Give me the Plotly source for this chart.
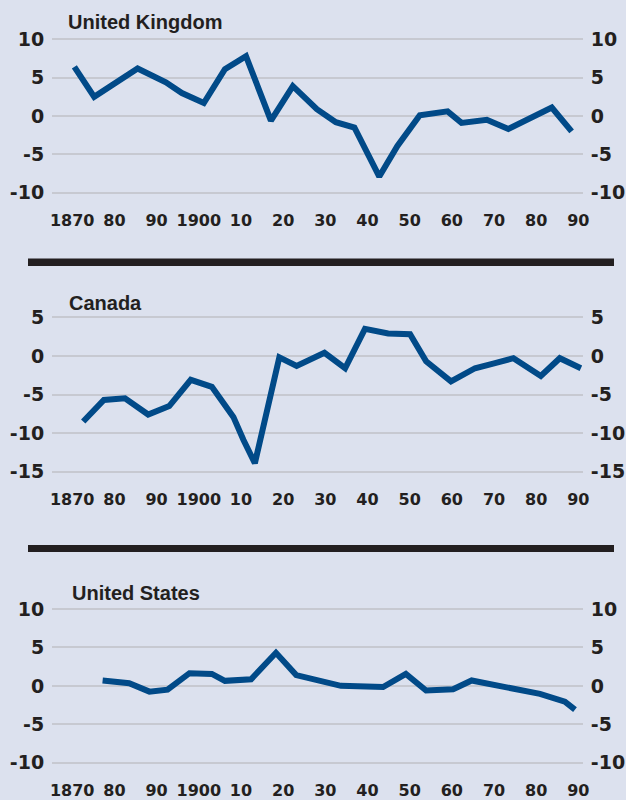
import plotly.graph_objects as go

# ---- data (current-account style balances, % ) ----
uk_years = [1870.5, 1875.2, 1885.5, 1892.2, 1896.0, 1901.2, 1906.2, 1911.2, 1917.1, 1922.3, 1928.0,
            1932.5, 1936.9, 1942.8, 1947.1, 1952.4, 1959.0, 1962.3, 1968.3, 1973.4, 1983.7, 1988.4]
uk_vals = [6.4, 2.5, 6.2, 4.4, 3.0, 1.7, 6.1, 7.8, -0.6, 3.9, 0.9,
           -0.8, -1.5, -7.9, -3.9, 0.1, 0.6, -0.9, -0.5, -1.7, 1.1, -2.0]

ca_years = [1872.6, 1877.5, 1882.5, 1888.0, 1893.0, 1898.1, 1903.1, 1908.2, 1910.6, 1913.3, 1919.1,
            1923.2, 1929.8, 1934.7, 1939.4, 1944.9, 1950.1, 1953.9, 1959.8, 1965.5, 1969.8, 1974.6,
            1981.1, 1985.6, 1990.6]
ca_vals = [-8.5, -5.7, -5.5, -7.6, -6.5, -3.1, -4.0, -7.9, -10.9, -13.9, -0.2,
           -1.3, 0.4, -1.6, 3.5, 2.9, 2.8, -0.7, -3.3, -1.6, -1.0, -0.3,
           -2.6, -0.3, -1.6]

us_years = [1877.2, 1883.5, 1888.3, 1892.6, 1897.8, 1903.1, 1906.2, 1912.4, 1918.3, 1923.1,
            1933.7, 1943.7, 1949.1, 1953.9, 1960.3, 1964.7, 1973.0, 1980.9, 1986.8, 1989.2]
us_vals = [0.7, 0.35, -0.75, -0.5, 1.65, 1.55, 0.65, 0.85, 4.3, 1.4,
           0.0, -0.15, 1.55, -0.6, -0.45, 0.7, -0.2, -1.05, -2.05, -3.1]

titles = ["United Kingdom", "Canada", "United States"]

x_tickvals = [1870, 1880, 1890, 1900, 1910, 1920, 1930, 1940, 1950, 1960, 1970, 1980, 1990]
x_ticktext = ["1870", "80", "90", "1900", "10", "20", "30", "40", "50", "60", "70", "80", "90"]

uk_yticks = [-10, -5, 0, 5, 10]
ca_yticks = [-15, -10, -5, 0, 5]
us_yticks = [-10, -5, 0, 5, 10]

# ---- styling ----
W, H = 626, 800
BG = "#dce1ee"
LINE = "#014a88"
GRID = "#c7c9d1"
TXT = "#231f20"
TICKFONT = "DejaVu Sans"
TITLEFONT = "Liberation Sans"

panels = [
    dict(years=uk_years, vals=uk_vals, yticks=uk_yticks, yr=[-10.5, 10.5], top=35.5, bot=196.5,
         title_y=22.5, title_x=66),
    dict(years=ca_years, vals=ca_vals, yticks=ca_yticks, yr=[-15.5, 5.5], top=313.4, bot=475.6,
         title_y=302.5, title_x=67),
    dict(years=us_years, vals=us_vals, yticks=us_yticks, yr=[-10.5, 10.5], top=605.2, bot=766.5,
         title_y=592.5, title_x=70),
]

x0_px, x1_px = 52, 583
xr = [1865.2, 1991.1]

fig = go.Figure()
layout = dict(
    width=W, height=H, paper_bgcolor=BG, plot_bgcolor=BG,
    margin=dict(l=0, r=0, t=0, b=0, pad=0, autoexpand=False), showlegend=False,
    font=dict(family=TICKFONT, color=TXT),
)
annotations = []
for i, p in enumerate(panels):
    n = i + 1
    xa = "x" if n == 1 else f"x{n}"
    ya = "y" if n == 1 else f"y{n}"
    yr_name = f"y{n + 3}"
    dom_y = [1 - p["bot"] / H, 1 - p["top"] / H]
    ytext = [str(v) for v in p["yticks"]]
    fig.add_trace(go.Scatter(x=p["years"], y=p["vals"], mode="lines",
                             line=dict(color=LINE, width=6), xaxis=xa, yaxis=ya,
                             hoverinfo="skip"))
    fig.add_trace(go.Scatter(x=[None], y=[None], mode="lines", xaxis=xa, yaxis=yr_name,
                             hoverinfo="skip"))
    layout[f"xaxis{n if n > 1 else ''}"] = dict(
        domain=[x0_px / W, x1_px / W], range=xr, anchor=ya, automargin=False,
        tickvals=x_tickvals, ticktext=x_ticktext, showgrid=False, zeroline=False,
        showline=False, ticks="outside", ticklen=9, tickcolor=BG,
        tickfont=dict(family=TICKFONT, size=16, color=TXT, weight="bold"), fixedrange=True,
    )
    layout[f"yaxis{n if n > 1 else ''}"] = dict(
        domain=dom_y, range=p["yr"], anchor=xa, tickvals=p["yticks"], ticktext=ytext,
        automargin=False,
        showgrid=True, gridcolor=GRID, gridwidth=2, zeroline=False, showline=False,
        ticks="outside", ticklen=3, tickcolor=BG,
        tickfont=dict(family=TICKFONT, size=19, color=TXT, weight="bold"), fixedrange=True,
    )
    layout[f"yaxis{n + 3}"] = dict(
        overlaying=ya, side="right", anchor=xa, range=p["yr"], tickvals=p["yticks"],
        ticktext=ytext, automargin=False,
        showgrid=False, zeroline=False, showline=False, ticks="outside", ticklen=3,
        tickcolor=BG, tickfont=dict(family=TICKFONT, size=19, color=TXT, weight="bold"),
        fixedrange=True,
    )
    annotations.append(dict(
        text=titles[i], xref="paper", yref="paper", x=p["title_x"] / W, y=1 - p["title_y"] / H,
        xanchor="left", yanchor="middle", showarrow=False,
        font=dict(family=TITLEFONT, size=20, color=TXT, weight="bold"),
    ))

shapes = []
for (t, b) in [(258.5, 266), (545, 552)]:
    shapes.append(dict(type="rect", xref="paper", yref="paper", x0=28 / W, x1=614 / W,
                       y0=1 - b / H, y1=1 - t / H, fillcolor=TXT, line=dict(width=0)))

layout["annotations"] = annotations
layout["shapes"] = shapes
fig.update_layout(**layout)
fig.write_html(
    "out.html",
    config={"displayModeBar": False},
    post_script="document.documentElement.style.margin='0';"
                "document.body.style.margin='0';document.body.style.padding='0';"
                "document.body.style.overflow='hidden';"
                "document.documentElement.style.overflow='hidden';"
                "var d=document.getElementById('{plot_id}');"
                "d.style.position='fixed';d.style.top='0px';d.style.left='0px';",
)
